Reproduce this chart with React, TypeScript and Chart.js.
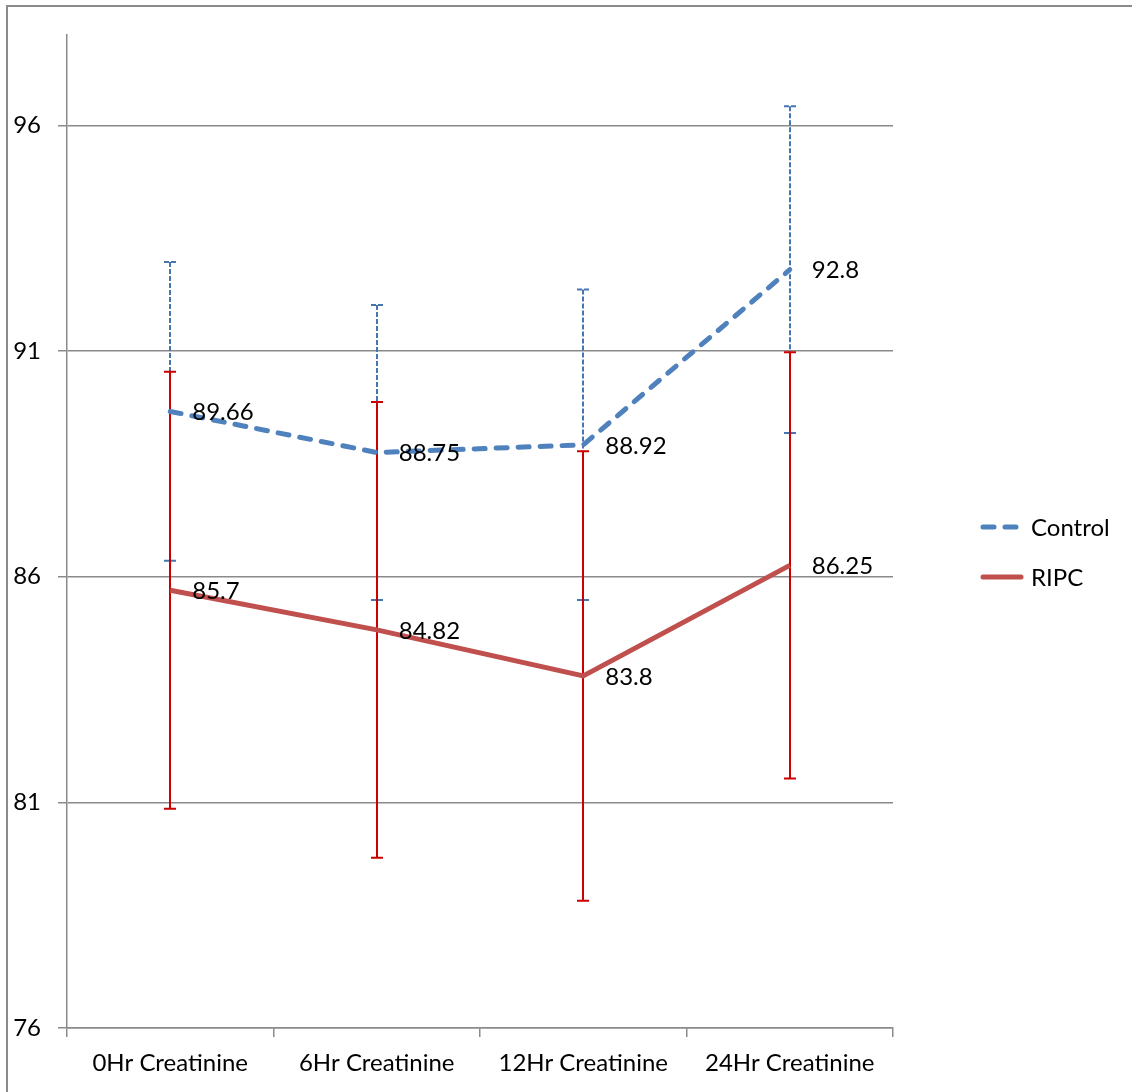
import { useEffect, useRef } from "react";
import { Chart, registerables } from "chart.js";

Chart.register(...registerables);

const categories = ["0Hr Creatinine", "6Hr Creatinine", "12Hr Creatinine", "24Hr Creatinine"];
const seriesNames = ["Control", "RIPC"];
const controlValues = [89.66, 88.75, 88.92, 92.8];
const controlErrors = [3.31, 3.27, 3.44, 3.62];
const ripcValues = [85.7, 84.82, 83.8, 86.25];
const ripcErrors = [4.84, 5.05, 4.98, 4.72];
const yTicks = [76, 81, 86, 91, 96];
const yMin = 76;
const yMax = 98;

const FONT_FAMILY = "Lato";
const FONT_SIZE = 24;
const GRID = "#8a8a8a";
const CONTROL_COLOR = "#4F81BD";
const CONTROL_ERR = "#4676B0";
const RIPC_COLOR = "#C0504D";
const RIPC_ERR = "#CC0000";

const errorSets = [controlErrors, ripcErrors];
const errColors = [CONTROL_ERR, RIPC_ERR];
const errDashes = [[5, 2], []];

const extrasPlugin = {
  id: "extras",
  beforeDraw(chart: any) {
    const ctx = chart.ctx;
    ctx.save();
    ctx.fillStyle = "#ffffff";
    ctx.fillRect(0, 0, chart.width, chart.height);
    ctx.strokeStyle = "#8a8a8a";
    ctx.lineWidth = 2;
    ctx.beginPath();
    ctx.moveTo(7, chart.height);
    ctx.lineTo(7, 6);
    ctx.lineTo(chart.width, 6);
    ctx.stroke();
    ctx.restore();
  },
  beforeDatasetsDraw(chart: any) {
    const ctx = chart.ctx;
    const yScale = chart.scales.y;
    chart.data.datasets.forEach((ds: any, i: number) => {
      const meta = chart.getDatasetMeta(i);
      const errs = errorSets[i];
      ctx.save();
      ctx.strokeStyle = errColors[i];
      ctx.lineWidth = 2;
      ctx.setLineDash(errDashes[i]);
      meta.data.forEach((pt: any, j: number) => {
        const v = ds.data[j];
        const x = Math.round(pt.x);
        const yt = yScale.getPixelForValue(v + errs[j]);
        const yb = yScale.getPixelForValue(v - errs[j]);
        ctx.beginPath();
        ctx.moveTo(x, yt);
        ctx.lineTo(x, yb);
        ctx.moveTo(x - 6, yt);
        ctx.lineTo(x + 6, yt);
        ctx.moveTo(x - 6, yb);
        ctx.lineTo(x + 6, yb);
        ctx.stroke();
      });
      ctx.restore();
    });
  },
  afterDatasetsDraw(chart: any) {
    const ctx = chart.ctx;
    ctx.save();
    ctx.font = `${FONT_SIZE}px ${FONT_FAMILY}`;
    ctx.fillStyle = "#000000";
    ctx.textAlign = "left";
    ctx.textBaseline = "middle";
    chart.data.datasets.forEach((ds: any, i: number) => {
      const meta = chart.getDatasetMeta(i);
      meta.data.forEach((pt: any, j: number) => {
        ctx.fillText(String(ds.data[j]), pt.x + 22, pt.y + 1);
      });
    });
    // legend
    const items = [
      { y: 527, color: CONTROL_COLOR, dash: [11, 11] },
      { y: 577, color: RIPC_COLOR, dash: [] as number[] },
    ];
    items.forEach((it, i) => {
      ctx.save();
      ctx.strokeStyle = it.color;
      ctx.lineWidth = 5;
      ctx.lineCap = "round";
      ctx.setLineDash(it.dash);
      ctx.beginPath();
      ctx.moveTo(983, it.y);
      ctx.lineTo(1021, it.y);
      ctx.stroke();
      ctx.restore();
      ctx.fillText(chart.data.datasets[i].label, 1031, it.y + 1);
    });
    ctx.restore();
  },
};

export default function App() {
  const ref = useRef<HTMLCanvasElement>(null);
  useEffect(() => {
    if (!ref.current) return;
    const chart = new Chart(ref.current, {
      type: "line",
      data: {
        labels: categories,
        datasets: [
          {
            label: seriesNames[0],
            data: controlValues,
            borderColor: CONTROL_COLOR,
            backgroundColor: CONTROL_COLOR,
            borderWidth: 5,
            borderDash: [11, 11],
            borderCapStyle: "round",
            pointRadius: 0,
            tension: 0,
            order: 1,
          },
          {
            label: seriesNames[1],
            data: ripcValues,
            borderColor: RIPC_COLOR,
            backgroundColor: RIPC_COLOR,
            borderWidth: 5,
            pointRadius: 0,
            tension: 0,
            order: 2,
          },
        ],
      },
      options: {
        responsive: false,
        animation: false,
        devicePixelRatio: 1,
        layout: { padding: { left: 0, top: 35, right: 239, bottom: 0 } },
        plugins: { legend: { display: false }, tooltip: { enabled: false } },
        scales: {
          x: {
            type: "category",
            offset: true,
            grid: { offset: true, drawOnChartArea: false, color: GRID, lineWidth: 1.5, tickLength: 9 },
            border: { color: GRID, width: 1.5 },
            ticks: { color: "#000", font: { family: FONT_FAMILY, size: FONT_SIZE }, padding: 12, maxRotation: 0 },
            afterFit: (s: any) => { s.height = 64; },
          },
          y: {
            min: yMin,
            max: yMax,
            afterBuildTicks: (s: any) => { s.ticks = yTicks.map((v) => ({ value: v })); },
            grid: { color: GRID, lineWidth: 1.5, tickLength: 9 },
            border: { color: GRID, width: 1.5 },
            ticks: { color: "#000", font: { family: FONT_FAMILY, size: FONT_SIZE }, padding: 17 },
            afterFit: (s: any) => { s.width = 67; },
          },
        },
      },
      plugins: [extrasPlugin],
    });
    return () => chart.destroy();
  }, []);
  return (
    <div style={{ position: "absolute", left: 0, top: 0, width: 1132, height: 1092 }}>
      <canvas ref={ref} width={1132} height={1092} style={{ display: "block" }} />
    </div>
  );
}
